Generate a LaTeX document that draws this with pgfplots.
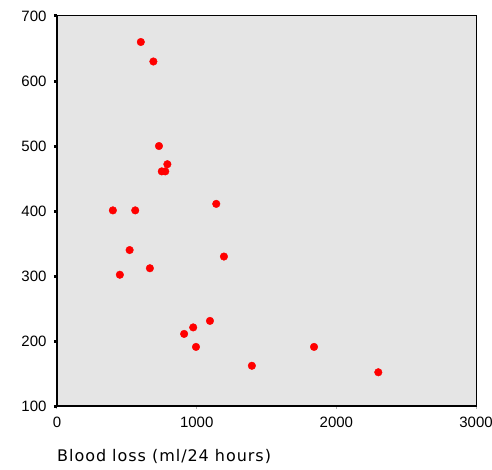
\documentclass[border=0pt]{standalone}
\usepackage{fontspec}
\usepackage{pgfplots}
\pgfplotsset{compat=1.18}
\setmainfont{Liberation Sans}
\newfontfamily\labelfont[LetterSpace=6]{DejaVu Sans}
\definecolor{bg}{HTML}{E5E5E5}
\begin{document}
\begin{tikzpicture}
\begin{axis}[
  scale only axis,
  width=419pt, height=390pt,
  xmin=0, xmax=3000, ymin=100, ymax=700,
  xtick={0,1000,2000,3000},
  ytick={100,200,300,400,500,600,700},
  axis background/.style={fill=bg},
  axis line style={black, line width=1pt},
  tick pos=left,
  tick align=outside,
  major tick length=3pt,
  ytick style={black, line width=3pt},
  xtick style={gray!60, line width=1pt},
  /pgf/number format/assume math mode=true,
  /pgf/number format/1000 sep={},
  ticklabel style={font=\fontsize{15}{16}\selectfont},
  xticklabel style={yshift=-4pt},
  yticklabel style={xshift=-4pt},
  xlabel={Blood loss (ml/24 hours)},
  xlabel style={at={(rel axis cs:0,0)}, anchor=north west, yshift=-42pt, xshift=-1pt, inner sep=1pt, font=\labelfont\fontsize{16}{17}\selectfont},
  clip=false,
]
\addplot[only marks, mark=*, mark size=3.8pt, red, mark options={draw=red, fill=red}] coordinates {
(600,660) (690,630) (730,500) (790,472) (750,461) (775,461)
(1140,411) (400,401) (560,401) (520,340) (665,312) (450,302)
(1195,330) (1095,231) (975,221) (910,211) (995,191)
(1395,162) (1840,191) (2300,152)
};
\draw[black, line width=2pt] (rel axis cs:0,1) -- (rel axis cs:0,0) -- (rel axis cs:1,0);
\coordinate (bbl) at (rel axis cs:-0.136,-0.1615);
\coordinate (btr) at (rel axis cs:1.038,1.041);
\end{axis}
\pgfresetboundingbox
\path[use as bounding box] (bbl) rectangle (btr);
\end{tikzpicture}
\end{document}
